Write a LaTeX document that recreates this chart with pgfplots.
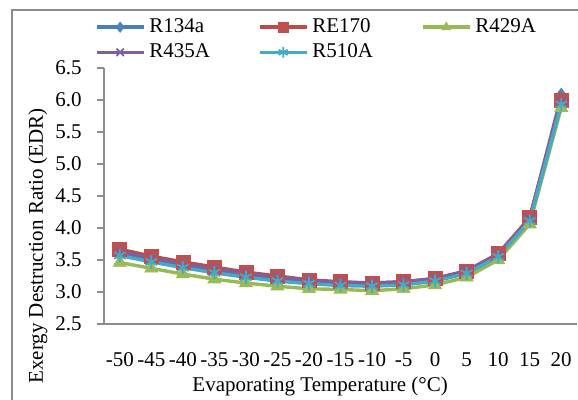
\documentclass[border=0pt]{standalone}
\usepackage{fontspec}
\setmainfont{Liberation Serif}
\usepackage{pgfplots}
\pgfplotsset{compat=1.18}
\definecolor{cA}{HTML}{4A7EBB}
\definecolor{cB}{HTML}{BE4B48}
\definecolor{cC}{HTML}{98B954}
\definecolor{cD}{HTML}{7D60A0}
\definecolor{cE}{HTML}{46AAC5}
\definecolor{fA}{HTML}{4F81BD}
\definecolor{fB}{HTML}{C0504D}
\definecolor{fC}{HTML}{9BBB59}
\pgfplotstableread{
x R134a RE170 R429A R435A R510A
0 3.60 3.67 3.46 3.63 3.57
1 3.50 3.56 3.37 3.53 3.47
2 3.41 3.47 3.28 3.44 3.38
3 3.33 3.39 3.20 3.36 3.30
4 3.26 3.31 3.14 3.29 3.23
5 3.20 3.25 3.09 3.23 3.17
6 3.15 3.19 3.05 3.18 3.13
7 3.12 3.16 3.04 3.15 3.10
8 3.11 3.14 3.02 3.14 3.09
9 3.13 3.16 3.05 3.16 3.11
10 3.19 3.21 3.11 3.21 3.17
11 3.31 3.33 3.23 3.33 3.29
12 3.58 3.60 3.50 3.59 3.55
13 4.15 4.16 4.06 4.14 4.11
14 6.06 6.00 5.88 5.97 5.93
}\datatable
\begin{document}
\fontsize{10.5}{12.6}\selectfont
\begin{tikzpicture}
\useasboundingbox (0,0) rectangle (289pt,200pt);
\begin{axis}[
  at={(52pt,38pt)}, anchor=south west,
  scale only axis, width=236.5pt, height=128pt,
  xmin=-0.5, xmax=14.5, ymin=2.5, ymax=6.5,
  axis x line=bottom, axis y line=left,
  axis line style={-, draw=black!45, line width=0.75pt},
  xtick={0,...,14},
  xticklabels={-50,-45,-40,-35,-30,-25,-20,-15,-10,-5,0,5,10,15,20},
  xtick style={draw=none},
  ytick={2.5,3,...,6.5},
  ytick style={draw=black!45, line width=0.75pt},
  tick align=outside, major tick length=3.5pt,
  /pgf/number format/assume math mode=true,
  yticklabel style={/pgf/number format/fixed, /pgf/number format/fixed zerofill, /pgf/number format/precision=1, anchor=east, xshift=-4pt},
  xticklabel style={anchor=center, yshift=-14.5pt},
  tick label style={font=\fontsize{10.5}{12.6}\selectfont},
  label style={font=\fontsize{10.5}{12.6}\selectfont},
  xlabel={Evaporating Temperature (°C)},
  xlabel style={at={(axis description cs:0.457,-0.244)}, anchor=center},
  ylabel={Exergy Destruction Ratio (EDR)},
  ylabel style={at={(axis description cs:-0.14,0.305)}, anchor=center},
  clip=false,
  legend columns=3,
  legend cell align=left,
  legend style={at={(axis description cs:-0.02,1.21)}, anchor=north west,
    draw=none, fill=none, font=\fontsize{10.5}{12.6}\selectfont,
    /tikz/every even column/.append style={column sep=22pt},
    row sep=0pt, inner sep=0pt},
  legend image code/.code={\draw[mark repeat=2,mark phase=2,mark size=2.6pt] plot coordinates {(0pt,0pt)(11.75pt,0pt)(23.5pt,0pt)};},
  every axis plot/.append style={line width=1.7pt},
]
\addplot[cA, mark=diamond*, mark size=4pt, mark options={fill=fA, draw=fA, line width=0.3pt}] table[x=x,y=R134a]{\datatable};
\addplot[cB, mark=square*, mark size=3.5pt, mark options={fill=fB, draw=fB, line width=0.3pt}] table[x=x,y=RE170]{\datatable};
\addplot[cC, mark=triangle*, mark size=3.8pt, mark options={fill=fC, draw=fC, line width=0.3pt}] table[x=x,y=R429A]{\datatable};
\addplot[cD, mark=x, mark size=3.3pt, mark options={line width=0.9pt}] table[x=x,y=R435A]{\datatable};
\addplot[cE, mark=asterisk, mark size=3.3pt, mark options={line width=0.9pt}] table[x=x,y=R510A]{\datatable};
\legend{R134a,RE170,R429A,R435A,R510A}
\end{axis}
\draw[draw=black!45, line width=1pt] (6pt,0pt) -- (6pt,195pt) -- (289pt,195pt);
\end{tikzpicture}
\end{document}
